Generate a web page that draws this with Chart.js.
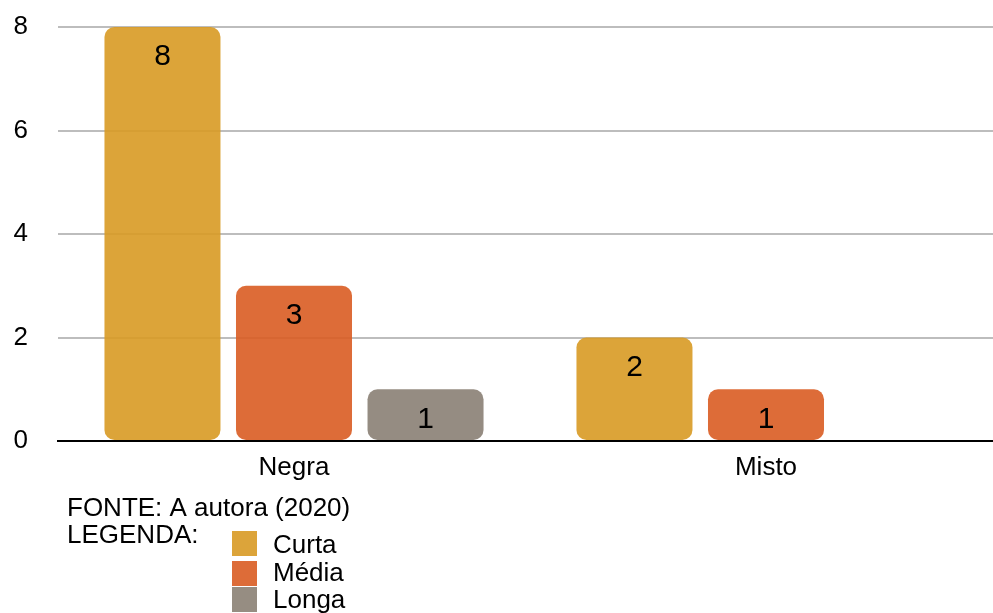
<!DOCTYPE html>
<html>
<head>
<meta charset="utf-8">
<script src="https://cdn.jsdelivr.net/npm/chart.js@4"></script>
<style>
  html, body { margin: 0; padding: 0; background: #fff; overflow: hidden; }
  #wrap { width: 993px; height: 613px; overflow: hidden; position: relative; }
  #box { width: 1002px; height: 613px; position: absolute; left: 0; top: 0; }
</style>
</head>
<body>
<div id="wrap"><div id="box"><canvas id="c" width="1002" height="613"></canvas></div></div>
<script>
const categories = ['Negra', 'Misto'];
const curta = [8, 2];
const media = [3, 1];
const longa = [1, null];
const seriesNames = ['Curta', 'Média', 'Longa'];
const yTicks = [0, 2, 4, 6, 8];
const sourceText = 'FONTE: A autora (2020)';
const legendTitle = 'LEGENDA:';

const FONT = '"Liberation Sans", Arial, sans-serif';
const solid = ['rgb(220,164,58)', 'rgb(221,108,56)', 'rgb(150,141,130)'];
const fills = ['rgba(216,154,36,0.9)', 'rgba(217,92,34,0.9)', 'rgba(138,128,116,0.9)'];

// value labels centred near the top of each bar
const valueLabels = {
  id: 'valueLabels',
  afterDatasetsDraw(chart) {
    const ctx = chart.ctx;
    ctx.save();
    ctx.font = '30px ' + FONT;
    ctx.fillStyle = '#000';
    ctx.textAlign = 'center';
    ctx.textBaseline = 'middle';
    chart.data.datasets.forEach((ds, i) => {
      chart.getDatasetMeta(i).data.forEach((bar, j) => {
        const v = ds.data[j];
        if (v == null) return;
        ctx.fillText(String(v), bar.x, bar.y + 30);
      });
    });
    ctx.restore();
  }
};

// source line and colour key under the axis
const footer = {
  id: 'footer',
  afterDraw(chart) {
    const ctx = chart.ctx;
    ctx.save();
    ctx.font = '26px ' + FONT;
    ctx.fillStyle = '#000';
    ctx.textAlign = 'left';
    ctx.textBaseline = 'alphabetic';
    ctx.fillText(sourceText, 67, 516);
    ctx.fillText(legendTitle, 67, 543);
    const boxY = [531, 561, 587];
    const textY = [553, 581, 608];
    seriesNames.forEach((name, i) => {
      ctx.fillStyle = solid[i];
      ctx.fillRect(232, boxY[i], 25, 25);
      ctx.fillStyle = '#000';
      ctx.fillText(name, 273, textY[i]);
    });
    ctx.restore();
  }
};

new Chart(document.getElementById('c'), {
  type: 'bar',
  data: {
    labels: categories,
    datasets: [curta, media, longa].map((d, i) => ({
      label: seriesNames[i],
      data: d,
      backgroundColor: fills[i],
      borderWidth: 0,
      borderRadius: 10,
      borderSkipped: false,
      categoryPercentage: 0.836,
      barPercentage: 0.882
    }))
  },
  options: {
    responsive: false,
    animation: false,
    devicePixelRatio: 1,
    layout: { padding: { top: 27, right: 0, left: 0, bottom: 0 } },
    plugins: { legend: { display: false }, tooltip: { enabled: false } },
    scales: {
      x: {
        grid: { display: false, drawTicks: false },
        border: { display: true, color: '#000', width: 2, z: 2 },
        ticks: { color: '#000', font: { family: FONT, size: 26 }, padding: 11 },
        afterFit(s) { s.height = 613 - 441; s.paddingLeft = 0; s.paddingRight = 0; }
      },
      y: {
        min: 0,
        max: 8,
        afterBuildTicks(s) { s.ticks = yTicks.map(v => ({ value: v })); },
        grid: { color: '#bdbdbd', lineWidth: 2, drawTicks: false },
        border: { display: false },
        ticks: { color: '#000', font: { family: FONT, size: 26 }, padding: 30 },
        afterFit(s) { s.width = 58; s.paddingTop = 0; s.paddingBottom = 0; }
      }
    }
  },
  plugins: [valueLabels, footer]
});
</script>
</body>
</html>
